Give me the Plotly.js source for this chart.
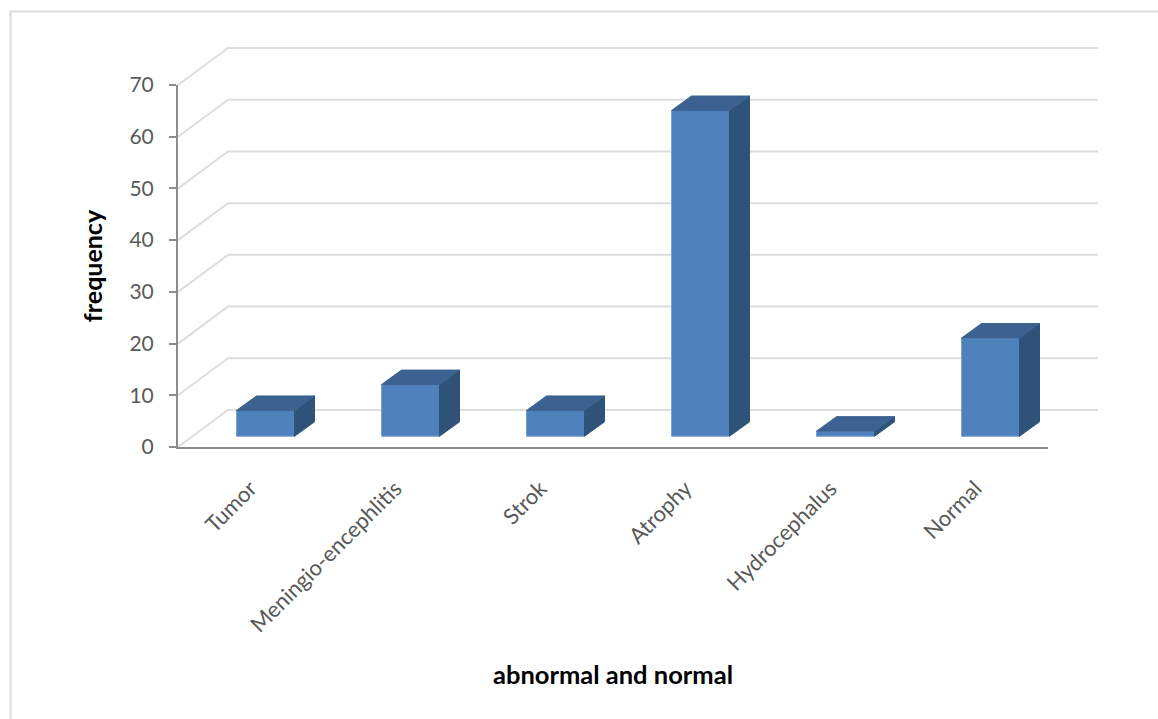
<!DOCTYPE html>
<html>
<head>
<meta charset="utf-8">
<script src="https://cdn.plot.ly/plotly-3.0.1.min.js"></script>
<style>html,body{margin:0;padding:0;background:#fff}#chart{width:1158px;height:719px}</style>
</head>
<body>
<div id="chart"></div>
<script>
var categories = ["Tumor", "Meningio-encephlitis", "Strok", "Atrophy", "Hydrocephalus", "Normal"];
var frequency = [5, 10, 5, 63, 1, 19];
var yTicks = [0, 10, 20, 30, 40, 50, 60, 70];
var xTitle = "abnormal and normal";
var yTitle = "frequency";

var W = 1158, H = 719;
var m = {l: 178, r: 110, t: 85, b: 272};
var plotW = W - m.l - m.r, plotH = H - m.t - m.b;
var xUnit = plotW / categories.length, yUnit = plotH / 70;

// pseudo-3D projection, expressed in axis units
var barWidth = 58 / xUnit, barShift = 15 / xUnit, barLift = 10.7 / yUnit;
var barDepthX = 20 / xUnit, barDepthY = 14.5 / yUnit;
var wallDepthX = 50 / plotW, wallDepthY = 37 / plotH;

var idx = categories.map(function (_, i) { return i; });

var front = {
  type: "bar", x: idx, y: frequency,
  base: frequency.map(function () { return barLift; }),
  width: barWidth, offset: barShift - barWidth / 2,
  marker: {color: "#4F81BD", line: {color: "#7FA3D0", width: 1}},
  hoverinfo: "x+y", showlegend: false, name: "frequency"
};

function face(color, build) {
  var xs = [], ys = [];
  idx.forEach(function (i) {
    var p = build(i + barShift - barWidth / 2, i + barShift + barWidth / 2, barLift + frequency[i]);
    xs = xs.concat(p[0], [p[0][0], null]);
    ys = ys.concat(p[1], [p[1][0], null]);
  });
  return {type: "scatter", mode: "lines", x: xs, y: ys, fill: "toself", fillcolor: color,
    line: {color: color, width: 1}, hoverinfo: "skip", showlegend: false};
}

var side = face("#2F5279", function (l, r, t) {
  return [[r, r, r + barDepthX, r + barDepthX], [barLift, t, t + barDepthY, barLift + barDepthY]];
});
var top3d = face("#3C6291", function (l, r, t) {
  return [[l, r, r + barDepthX, l + barDepthX], [t, t, t + barDepthY, t + barDepthY]];
});

var gridShapes = yTicks.map(function (v) {
  var py = v / 70;
  return {type: "path", xref: "paper", yref: "paper", layer: "below",
    path: "M 0 " + py + " L " + wallDepthX + " " + (py + wallDepthY) + " L " + (1 + wallDepthX) + " " + (py + wallDepthY),
    line: {color: "#DDDDDD", width: 2}};
});

var frameShape = {type: "path", xref: "paper", yref: "paper", layer: "below",
  path: "M " + ((10.5 - m.l) / plotW) + " " + (-m.b / plotH - 0.01) +
        " L " + ((10.5 - m.l) / plotW) + " " + ((m.t - 11.5) / plotH + 1) +
        " L " + ((W - m.l) / plotW) + " " + ((m.t - 11.5) / plotH + 1),
  line: {color: "#DCDCDC", width: 2}};

var layout = {
  width: W, height: H, margin: m, autosize: false,
  paper_bgcolor: "#fff", plot_bgcolor: "rgba(0,0,0,0)",
  showlegend: false, bargap: 0,
  font: {family: "Lato, Carlito, sans-serif", color: "#595959"},
  xaxis: {
    type: "linear", range: [-0.5, 5.5], tickmode: "array", tickvals: idx, ticktext: categories,
    tickangle: -45, ticks: "", ticklabelstandoff: 18, tickfont: {size: 22, color: "#595959"},
    showgrid: false, zeroline: false, showline: true, linecolor: "#8C8C8C", linewidth: 2,
    title: {text: xTitle, standoff: 30, font: {size: 25.5, color: "#000", family: "Lato, sans-serif", weight: 700}}
  },
  yaxis: {
    range: [0, 70], tickmode: "array", tickvals: yTicks, ticks: "outside", ticklen: 7, tickwidth: 2,
    tickcolor: "#8C8C8C", tickfont: {size: 21, color: "#595959"}, ticklabelstandoff: 11,
    showgrid: false, zeroline: false, showline: true, linecolor: "#8C8C8C", linewidth: 2,
    title: {text: yTitle, standoff: 20, font: {size: 25, color: "#000", family: "Lato, sans-serif", weight: 700}}
  },
  shapes: [frameShape].concat(gridShapes)
};

Plotly.newPlot("chart", [front, side, top3d], layout, {displayModeBar: false, staticPlot: true});
</script>
</body>
</html>
